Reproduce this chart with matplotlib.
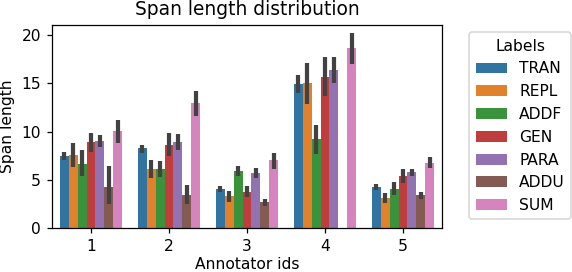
import matplotlib
matplotlib.use("Agg")
import matplotlib.pyplot as plt
import numpy as np

annotators = ["1", "2", "3", "4", "5"]
labels = ["TRAN", "REPL", "ADDF", "GEN", "PARA", "ADDU", "SUM"]

# mean span length per label and annotator; None = no data
means = {
    "TRAN": [7.47, 8.27, 4.05, 14.91, 4.26],
    "REPL": [7.60, 6.16, 3.29, 15.02, 3.08],
    "ADDF": [6.68, 6.16, 5.92, 9.20, 4.05],
    "GEN":  [8.90, 8.65, 3.77, 15.64, 5.43],
    "PARA": [9.07, 8.93, 5.74, 16.44, 5.78],
    "ADDU": [4.22, 3.46, 2.70, None, 3.39],
    "SUM":  [10.03, 12.98, 7.02, 18.72, 6.78],
}
ci_low = {
    "TRAN": [7.02, 7.79, 3.70, 14.05, 3.94],
    "REPL": [6.33, 5.22, 2.73, 12.87, 2.56],
    "ADDF": [5.40, 5.33, 5.40, 7.68, 3.39],
    "GEN":  [7.89, 7.51, 3.18, 13.67, 4.67],
    "PARA": [8.41, 8.10, 5.22, 15.09, 5.43],
    "ADDU": [2.49, 2.49, 2.28, None, 2.98],
    "SUM":  [8.86, 11.63, 6.16, 17.06, 6.26],
}
ci_high = {
    "TRAN": [7.85, 8.65, 4.39, 15.88, 4.53],
    "REPL": [8.86, 7.09, 3.84, 17.16, 3.63],
    "ADDF": [8.13, 6.99, 6.47, 10.73, 4.81],
    "GEN":  [9.86, 9.86, 4.36, 17.75, 6.16],
    "PARA": [9.69, 9.72, 6.26, 17.75, 6.16],
    "ADDU": [6.44, 4.46, 3.04, None, 3.77],
    "SUM":  [11.18, 14.26, 7.82, 20.24, 7.34],
}

colors = ["#3274a1", "#e1812c", "#3a923a", "#c03d3e", "#9372b2", "#845b53", "#d684bd"]

DPI = 112
fig = plt.figure(figsize=(572 / DPI, 272 / DPI), dpi=DPI)
ax = fig.add_axes([52 / 572, 1 - 228 / 272, 390 / 572, 203.3 / 272])

n = len(labels)
width = 0.8 / n
x = np.arange(len(annotators))
for i, lab in enumerate(labels):
    off = -0.4 + width * (i + 0.5)
    for j in range(len(annotators)):
        m = means[lab][j]
        if m is None:
            continue
        ax.bar(x[j] + off, m, width=width, color=colors[i],
               label=lab if j == 0 else None)
        ax.plot([x[j] + off, x[j] + off], [ci_low[lab][j], ci_high[lab][j]],
                color=(0.26, 0.26, 0.26), lw=2.7, solid_capstyle="butt")

ax.set_xticks(x)
ax.set_xticklabels(annotators)
ax.set_xlim(-0.5, 4.5)
ax.set_ylim(0, 21.1)
ax.set_yticks([0, 5, 10, 15, 20])
ax.set_xlabel("Annotator ids", fontsize=10, labelpad=2.2)
ax.set_ylabel("Span length", fontsize=10)
ax.set_title("Span length distribution", fontsize=12)
ax.legend(title="Labels", loc="upper left", bbox_to_anchor=(1.05, 1))

fig.savefig("out.png", dpi=DPI)
